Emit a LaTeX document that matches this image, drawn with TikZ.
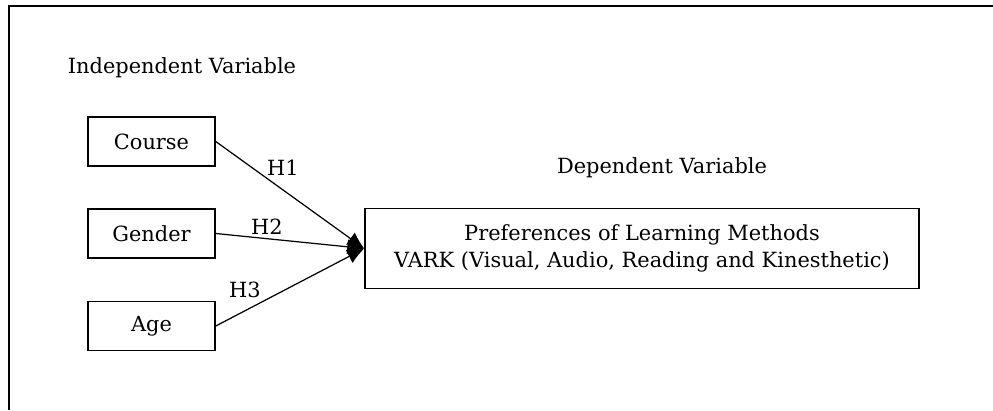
\documentclass[tikz,border=0pt]{standalone}
\usepackage{fontspec}
\setmainfont{DejaVu Serif}
\usetikzlibrary{arrows.meta}
\tikzset{
  varbox/.style={draw,line width=0.9pt,minimum width=2.54cm,minimum height=0.98cm,inner sep=2pt},
  hyp/.style={line width=0.7pt,-{Latex[length=3.4mm,width=3mm]}}
}
\begin{document}
\begin{tikzpicture}[x=0.02cm,y=-0.02cm,font=\fontsize{11.9}{15}\selectfont]
            \useasboundingbox (0,0) rectangle (993,410);
            % outer frame (cut off at right and bottom)
            \draw[line width=1.2pt] (993,6) -- (9,6) -- (9,410);

            % Independent variables
            \node (indep) at (182,68) {Independent Variable};
            \node[varbox] (course) at (151.5,141.5) {Course};
            \node[varbox] (gender) at (151.5,233.5) {Gender};
            \node[varbox] (age) at (151.5,326) {Age};

            % Dependent variable
            \node (dep) at (662,168) {Dependent Variable};
            \node[varbox,minimum width=11.08cm,minimum height=1.6cm,align=center] (pref) at (642,248.5)
                {Preferences of Learning Methods\\VARK (Visual, Audio, Reading and Kinesthetic)};

            % Hypotheses
            \draw[hyp] (course.east) -- (pref.west);
            \draw[hyp] (gender.east) -- (pref.west);
            \draw[hyp] (age.east) -- (pref.west);
            \node (h1) at (283,168) {H1};
            \node (h2) at (267,227) {H2};
            \node (h3) at (245,290) {H3};
        \end{tikzpicture}
\end{document}
